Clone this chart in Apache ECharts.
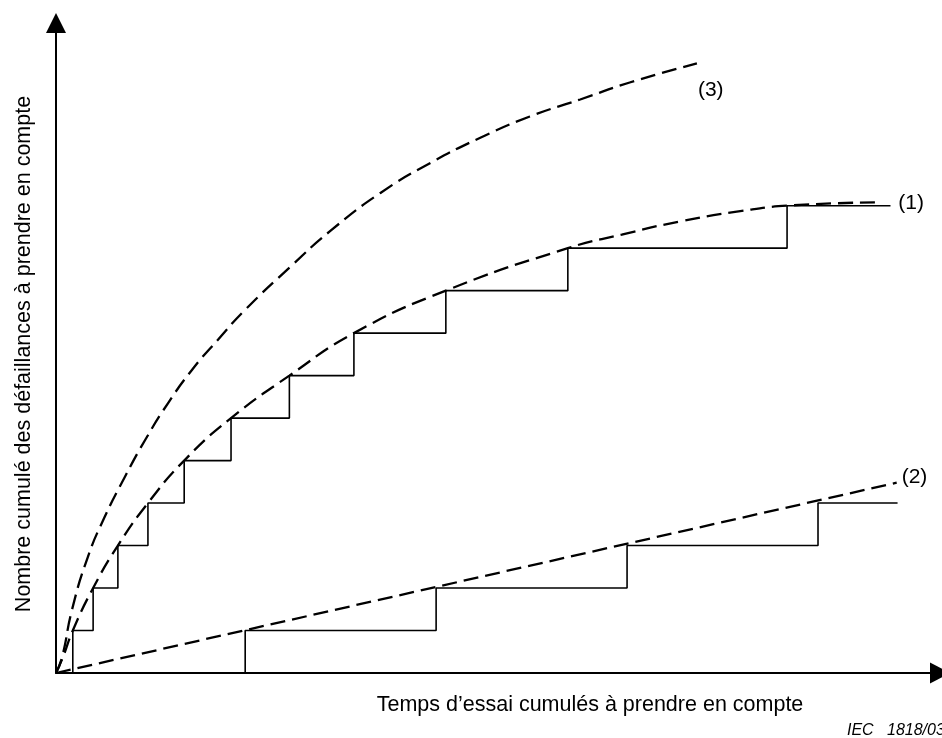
<!DOCTYPE html>
<html><head><meta charset="utf-8">
<script src="https://cdn.jsdelivr.net/npm/echarts@6/dist/echarts.min.js"></script>
<style>html,body{margin:0;padding:0;background:#fff}#c{width:942px;height:738px}</style>
</head><body><div id="c"></div>
<script>
// ---- text ----
const curveLabels = ['(1)', '(2)', '(3)'];
const xAxisTitle = 'Temps d’essai cumulés à prendre en compte';
const yAxisTitle = 'Nombre cumulé des défaillances à prendre en compte';
const sourceNote = 'IEC   1818/03';

// ---- data: [cumulative test time, cumulative failures] ----
const steps1 = [[0,0],[1.9,1],[4.2,2],[7.0,3],[10.4,4],[14.5,5],[19.8,6],[26.4,7],[33.7,8],[44.1,9],[57.9,10],[82.7,11],[94.4,11]];
const steps2 = [[0,0],[21.4,1],[43.0,2],[64.6,3],[86.2,4],[95.2,4]];
const curve1 = [[0,0],[0.8,0.38],[1.9,1],[4.2,2],[7.0,3],[10.4,4],[14.5,5],[19.8,6],[26.4,7],[33.7,8],[44.1,9],[57.9,10],[64.0,10.32],[70.6,10.63],[77.4,10.87],[82.7,11.0],[92.9,11.08]];
const curve2 = [[0,0],[95.1,4.48]];
const curve3 = [[0,0],[0.7,0.38],[1.8,1.48],[3.6,2.73],[5.5,3.67],[7.8,4.62],[10.1,5.49],[12.7,6.36],[15.4,7.14],[18.3,7.84],[21.4,8.55],[26.5,9.56],[31.0,10.4],[36.7,11.3],[42.3,12.0],[48.0,12.6],[53.6,13.1],[59.3,13.5],[64.9,13.9],[72.5,14.35]];

const FONT = "'Liberation Sans', Arial, sans-serif";
const chart = echarts.init(document.getElementById('c'), null, {renderer: 'canvas'});

const stepStyle = {color: '#000', width: 1.6};
const dashStyle = {color: '#000', width: 2.3, type: [15, 7]};
function endLbl(text, offset) {
  return {show: true, formatter: () => text, color: '#000', fontFamily: FONT, fontSize: 21,
          distance: 0, offset: offset, align: 'left', verticalAlign: 'middle'};
}

chart.setOption({
  animation: false,
  backgroundColor: '#fff',
  grid: {left: 56, right: 2, top: 23, bottom: 65, containLabel: false},
  xAxis: {
    type: 'value', min: 0, max: 100,
    axisLine: {show: true, lineStyle: {color: '#000', width: 2}, symbol: ['none', 'triangle'], symbolSize: [21, 20]},
    axisTick: {show: false}, axisLabel: {show: false}, splitLine: {show: false}
  },
  yAxis: {
    type: 'value', min: 0, max: 15.3,
    axisLine: {show: true, lineStyle: {color: '#000', width: 2}, symbol: ['none', 'triangle'], symbolSize: [20, 20]},
    axisTick: {show: false}, axisLabel: {show: false}, splitLine: {show: false}
  },
  series: [
    {type: 'line', data: steps1, step: 'end', symbol: 'none', lineStyle: stepStyle, z: 2},
    {type: 'line', data: steps2, step: 'end', symbol: 'none', lineStyle: stepStyle, z: 2},
    {type: 'line', data: curve1, smooth: 0.5, symbol: 'none', lineStyle: dashStyle, z: 3,
     endLabel: endLbl(curveLabels[0], [21, 1])},
    {type: 'line', data: curve2, symbol: 'none', lineStyle: dashStyle, z: 3,
     endLabel: endLbl(curveLabels[1], [5, -5])},
    {type: 'line', data: curve3, smooth: 0.5, symbol: 'none', lineStyle: dashStyle, z: 3,
     endLabel: endLbl(curveLabels[2], [1, 27])}
  ],
  graphic: [
    {type: 'text', x: 590, y: 705, style: {text: xAxisTitle, fill: '#000', font: '21.5px ' + FONT,
      textAlign: 'center', textVerticalAlign: 'middle', align: 'center', verticalAlign: 'middle'}},
    {type: 'text', x: 24, y: 354, rotation: Math.PI / 2, style: {text: yAxisTitle, fill: '#000', font: '21.5px ' + FONT,
      textAlign: 'center', textVerticalAlign: 'middle', align: 'center', verticalAlign: 'middle'}},
    {type: 'text', x: 847, y: 731, style: {text: sourceNote, fill: '#000', font: 'italic 16px ' + FONT,
      textAlign: 'left', textVerticalAlign: 'middle', align: 'left', verticalAlign: 'middle'}}
  ]
});
</script></body></html>
